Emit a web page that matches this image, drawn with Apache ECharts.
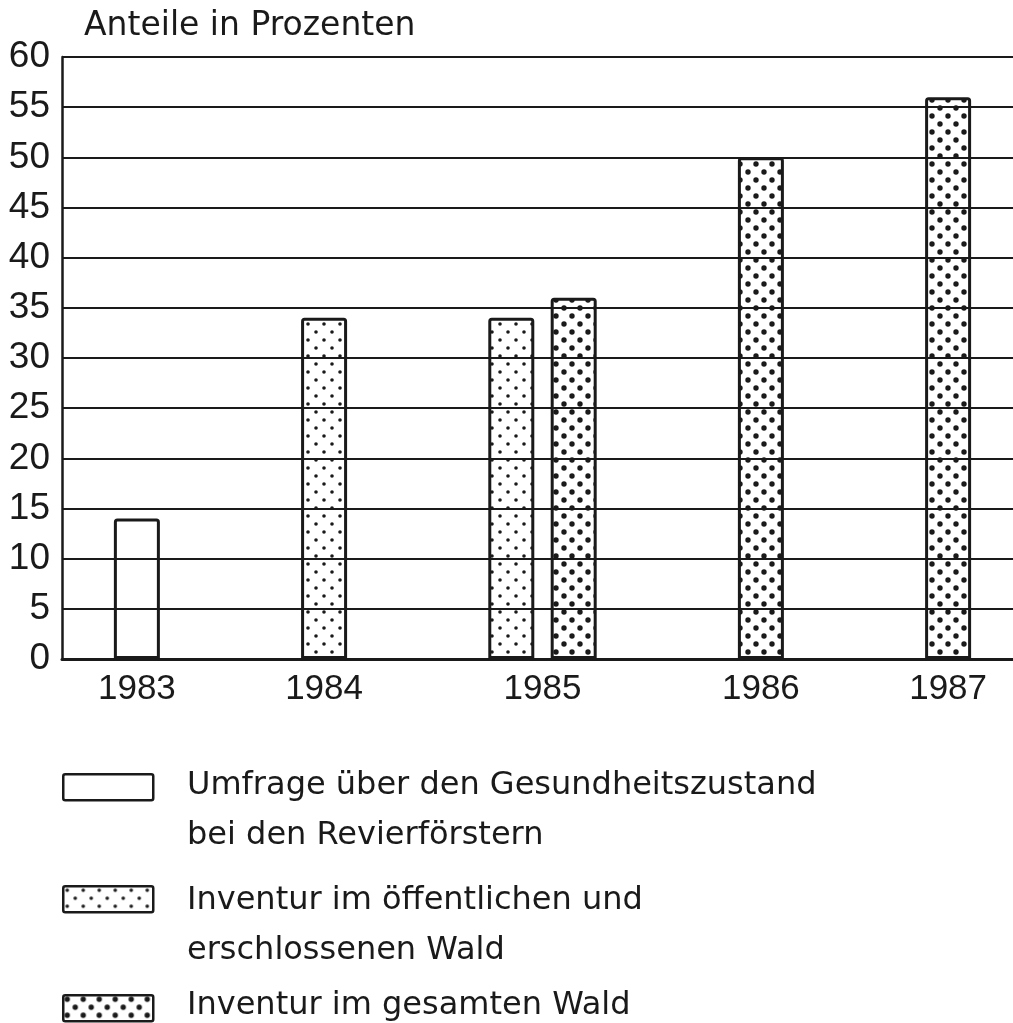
<!DOCTYPE html>
<html>
<head>
<meta charset="utf-8">
<script src="https://cdn.jsdelivr.net/npm/echarts@6.0.0/dist/echarts.min.js"></script>
<style>
  html, body { margin: 0; padding: 0; background: #fff; }
  #chart { width: 1013px; height: 1023px; }
</style>
</head>
<body>
<div id="chart"></div>
<script>
// data
const years = ['1983', '1984', '1985', '1986', '1987'];
const umfrage = [14, null, null, null, null];
const inventurOeffentlich = [null, 34, 34, null, null];
const inventurGesamt = [null, null, 36, 50, 56];
const seriesNames = [
  'Umfrage über den Gesundheitszustand\nbei den Revierförstern',
  'Inventur im öffentlichen und\nerschlossenen Wald',
  'Inventur im gesamten Wald'
];
const yTitle = 'Anteile in Prozenten';

const ink = '#1a1a1a';

// dotted raster like the print
function dotPattern(r) {
  const c = document.createElement('canvas');
  c.width = 16; c.height = 16;
  const ctx = c.getContext('2d');
  ctx.fillStyle = ink;
  [[4, 4], [12, 12]].forEach(p => {
    ctx.beginPath();
    ctx.arc(p[0], p[1], r, 0, Math.PI * 2);
    ctx.fill();
  });
  return { image: c, repeat: 'repeat' };
}
const fills = ['rgba(255,255,255,0)', dotPattern(1.8), dotPattern(2.7)];

// bars of one year sit side by side, two empty slots between years
const allSeries = [umfrage, inventurOeffentlich, inventurGesamt];
const barData = allSeries.map(() => []);
const yearCenters = [];
let slot = 0;
years.forEach((y, i) => {
  const first = slot;
  allSeries.forEach((arr, s) => {
    if (arr[i] != null) { barData[s].push([slot, arr[i]]); slot++; }
  });
  yearCenters.push((first + slot - 1) / 2);
  slot += 2;
});

const chart = echarts.init(document.getElementById('chart'));

const legendTops = [761, 876, 981];
const iconTops = [773, 885, 994];
const legendGraphics = [];
seriesNames.forEach((name, i) => {
  legendGraphics.push({
    type: 'rect',
    left: 62, top: iconTops[i],
    shape: { width: 90, height: 26, r: 2 },
    style: { fill: i === 0 ? '#fff' : fills[i], stroke: ink, lineWidth: 2.5 }
  });
  legendGraphics.push({
    type: 'text',
    left: 187, top: legendTops[i],
    style: {
      text: name,
      font: '32px "DejaVu Sans"',
      lineHeight: 50,
      fill: ink
    }
  });
});

chart.setOption({
  backgroundColor: '#fff',
  animation: false,
  title: {
    text: yTitle,
    left: 84, top: 6,
    padding: 0,
    textStyle: { fontFamily: 'DejaVu Sans', fontSize: 33, fontWeight: 'normal', color: ink, lineHeight: 40 }
  },
  grid: { left: 62, right: 0, top: 57, bottom: 364 },
  xAxis: {
    type: 'value',
    min: -1.2,
    max: 14.04,
    axisLine: { show: true, onZero: false, lineStyle: { color: ink, width: 3 } },
    axisTick: { show: false },
    splitLine: { show: false },
    axisLabel: {
      customValues: yearCenters,
      formatter: v => years[yearCenters.indexOf(v)] || '',
      fontFamily: 'Liberation Sans',
      fontSize: 35,
      lineHeight: 36,
      color: ink,
      margin: 12
    }
  },
  yAxis: {
    type: 'value',
    min: 0, max: 60, interval: 5,
    axisLine: { show: true, onZero: false, lineStyle: { color: ink, width: 2.5 } },
    axisTick: { show: false },
    splitLine: { show: true, lineStyle: { color: ink, width: 2 } },
    axisLabel: {
      fontFamily: 'Liberation Sans',
      fontSize: 37,
      color: ink,
      margin: 12,
      padding: [6, 0, 0, 0]
    }
  },
  series: barData.map((data, s) => ({
    name: seriesNames[s],
    type: 'bar',
    data: data,
    barWidth: 46,
    barGap: '-100%',
    itemStyle: { color: fills[s], borderColor: ink, borderWidth: 3, borderRadius: [2, 2, 0, 0] }
  })),
  graphic: legendGraphics
});
</script>
</body>
</html>
